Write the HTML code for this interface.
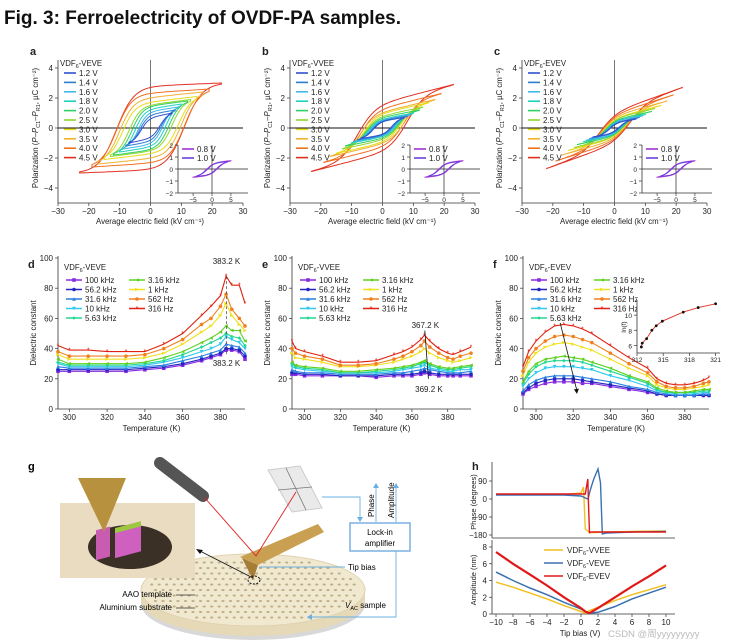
<!DOCTYPE html>
<html><head><meta charset="utf-8"><style>
body{margin:0;background:#fff;width:733px;height:642px;overflow:hidden}
svg{display:block;font-family:"Liberation Sans",sans-serif}
text{font-family:"Liberation Sans",sans-serif}
</style></head><body>
<svg id="fig" width="733" height="642" viewBox="0 0 733 642">
<text x="4" y="24" font-size="19" font-weight="bold" fill="#111">Fig. 3: Ferroelectricity of OVDF-PA samples.</text>
<g>
 <text x="28" y="470" font-size="11" font-weight="bold">g</text>
 <ellipse cx="253" cy="604" rx="112" ry="36" fill="#d8d8d8"/>
 <path d="M141 590 L141 600 A112 36 0 0 0 365 600 L365 590 Z" fill="#e6d9b8"/>
 <ellipse cx="253" cy="590" rx="112" ry="36" fill="#f1e8d0" stroke="#e0d2b0"/>
 <g id="holes"></g>
 <rect x="60" y="503" width="135" height="75" fill="#e9dcc0"/>
 <ellipse cx="130" cy="547" rx="42" ry="22" fill="#3a3026"/>
 <rect x="96" y="528" width="14" height="30" fill="#c85cb0" transform="skewY(-15) translate(0,28)"/>
 <rect x="115" y="525" width="26" height="30" fill="#d060c0" transform="skewY(-15) translate(0,34)"/>
 <rect x="115" y="525" width="26" height="5" fill="#9cc840" transform="skewY(-15) translate(0,34)"/>
 <polygon points="78,478 126,478 104,532" fill="#b8913e"/>
 <line x1="160" y1="463" x2="203" y2="496" stroke="#555" stroke-width="12" stroke-linecap="round"/>
 <polygon points="268,470 300,466 322,508 292,512" fill="#eaeaea" stroke="#ccc"/>
 <line x1="286" y1="468" x2="306" y2="510" stroke="#777" stroke-width="0.8"/>
 <line x1="278" y1="490" x2="312" y2="487" stroke="#777" stroke-width="0.8"/>
 <polygon points="240,557 318,524 324,532 258,565" fill="#c9a052"/>
 <polygon points="242,558 258,565 253,580" fill="#a67d36"/>
 <ellipse cx="254" cy="580" rx="6" ry="4" fill="none" stroke="#000" stroke-dasharray="2,1.5"/>
 <polyline points="204,497 256,556 296,492" fill="none" stroke="#e02020" stroke-width="0.9"/>
 <line x1="253" y1="578" x2="198" y2="550" stroke="#111" stroke-width="0.8"/>
 <polygon points="196,549 203,550 200,554" fill="#111"/>
 <rect x="350" y="523" width="60" height="28" fill="#fff" stroke="#7ab0e0" stroke-width="1.5"/>
 <text x="380" y="535" font-size="8" text-anchor="middle">Lock-in</text>
 <text x="380" y="546" font-size="8" text-anchor="middle">amplifier</text>
 <g stroke="#6ab0e0" fill="none" stroke-width="0.9">
  <polyline points="322,497 360,497 360,519"/>
  <line x1="376" y1="522" x2="376" y2="486"/>
  <line x1="396" y1="522" x2="396" y2="486"/>
  <polyline points="396,551 396,617 310,617"/>
  <line x1="259" y1="567" x2="345" y2="567"/>
 </g>
 <g fill="#6ab0e0"><polygon points="357,517 363,517 360,522"/><polygon points="373,488 379,488 376,483"/><polygon points="393,488 399,488 396,483"/><polygon points="312,614 312,620 307,617"/></g>
 <text transform="translate(374,517) rotate(-90)" font-size="8">Phase</text>
 <text transform="translate(394,518) rotate(-90)" font-size="8">Amplitude</text>
 <text x="348" y="570" font-size="8">Tip bias</text>
 <text x="345" y="608" font-size="8"><tspan font-style="italic">V</tspan><tspan font-size="5.5" dy="2">AC</tspan><tspan dy="-2"> sample</tspan></text>
 <text x="172" y="597" font-size="8" text-anchor="end">AAO template</text>
 <text x="172" y="610" font-size="8" text-anchor="end">Aluminium substrate</text>
 <line x1="176" y1="595" x2="195" y2="595" stroke="#333" stroke-width="0.7"/><line x1="176" y1="608" x2="195" y2="608" stroke="#333" stroke-width="0.7"/>
</g>
<g id="plots"></g>
</svg>
<script>
// ---------- DATA ----------
const voltsA=["1.2 V","1.4 V","1.6 V","1.8 V","2.0 V","2.5 V","3.0 V","3.5 V","4.0 V","4.5 V"];
const emaxA=[7,8,9,10,12,13,15,17,19,23];
const ecA=[3,3.5,4,5,6,7,9,10,11,11];
const pmaxA=[1.0,1.2,1.4,1.6,1.8,1.9,2.1,2.4,2.6,3.0];
const prA=[0.6,0.8,1.0,1.2,1.4,1.5,1.7,2.0,2.3,2.7];
const emaxB=[7,8,9,10,12,13,15,17,19,23];
const ecB=[3,3.5,4,4.5,5,5.5,6,7,7,8];
const pmaxB=[0.7,0.8,0.9,1.0,1.2,1.4,1.7,1.9,2.3,2.9];
const prB=[0.4,0.45,0.5,0.55,0.65,0.75,0.9,1.0,1.2,1.5];
const emaxC=[7,8,9,10,12,13,15,17,19,22];
const ecC=[1.5,2,2,2.5,3,3,3.5,4,4.5,5];
const pmaxC=[0.6,0.7,0.8,0.9,1.1,1.3,1.5,1.8,2.2,2.7];
const prC=[0.2,0.25,0.3,0.35,0.4,0.45,0.5,0.6,0.7,0.8];
const freqs=["100 kHz","56.2 kHz","31.6 kHz","10 kHz","5.63 kHz","3.16 kHz","1 kHz","562 Hz","316 Hz"];
const tempsD=[294,300,310,320,330,340,350,360,370,375,380,383,386,390,393];
const epsD=[
[25,25,25,25,25,26,27,29,32,34,36,39,39,38,33],
[26,26,26,26,26,27,28,30,33,35,37,40,40,39,35],
[28,27,27,27,27,28,29,32,35,37,39,43,42,41,37],
[30,28,28,28,28,29,31,34,38,40,43,48,46,44,40],
[31,29,29,29,29,30,32,36,41,44,47,50,48,47,42],
[33,30,30,30,30,31,34,38,44,47,51,55,52,52,45],
[36,33,33,33,33,34,37,43,51,55,62,70,62,56,52],
[38,35,35,35,35,36,40,46,56,60,68,76,66,60,55],
[42,39,39,38,38,38,43,50,62,68,75,88,82,82,70]];
const tempsE=[293,295,300,310,320,330,340,350,355,360,365,367,370,375,380,383,387,393];
const epsE=[
[23,23,22,22,22,22,21,22,22,22,23,24,23,22,22,22,22,22],
[24,24,23,23,22,22,22,23,23,23,24,25,24,23,23,23,23,23],
[26,25,24,24,23,23,23,24,24,25,26,27,26,25,24,24,24,25],
[28,27,26,25,24,24,24,25,26,27,28,29,27,26,25,25,26,26],
[30,28,27,26,24,24,25,26,27,28,30,31,29,27,26,26,27,28],
[31,29,28,27,25,25,26,27,28,29,31,32,30,28,27,27,28,29],
[37,34,33,31,28,28,29,31,33,35,38,40,37,34,32,31,32,34],
[40,37,35,33,29,29,30,33,35,38,42,45,41,37,34,33,35,37],
[45,40,38,35,31,31,32,36,38,41,46,49,45,40,37,36,38,41]];
const tempsF=[293,296,300,305,310,315,320,325,330,340,350,360,365,370,375,380,385,390,393];
const epsF=[
[10,13,15,17,18,18,18,17,17,15,13,11,10,9,9,9,9,9,9],
[11,14,17,19,20,20,20,19,18,16,14,12,10,9,9,9,9,9,9],
[12,16,19,21,22,22,22,21,20,18,15,13,11,10,9,9,9,10,10],
[15,20,24,27,28,28,28,27,26,22,19,15,12,11,10,10,10,11,11],
[17,23,28,31,32,32,32,31,29,25,21,17,13,11,11,11,11,12,12],
[18,25,30,33,34,35,34,33,31,27,22,18,14,12,11,11,12,13,13],
[22,31,37,41,43,44,43,41,39,33,27,22,16,14,13,13,14,15,16],
[25,34,40,45,48,49,48,46,44,37,30,24,18,15,14,14,15,17,18],
[28,38,45,51,55,56,55,53,50,42,34,27,20,17,16,16,17,19,21]];
const insetFT=[312.5,312.6,313.1,313.7,314.2,314.9,317.3,319.0,321.0];
const insetFlnf=[5.8,6.3,6.9,8.0,8.6,9.2,10.4,11.0,11.5];
const biasH=[-10,-8,-6,-4,-2,0,0.5,1,2,4,6,8,10];
const ampVVEE=[3.8,3.2,2.5,1.8,1.0,0.3,0.1,0.4,0.8,1.6,2.3,2.9,3.5];
const ampVEVE=[5.0,4.0,3.1,2.3,1.4,0.6,0.3,0.1,0.2,0.9,1.8,2.5,3.2];
const ampEVEV=[7.4,6.0,4.7,3.4,2.0,0.7,0.3,0.1,0.7,2.0,3.3,4.5,5.8];
const phaseBias=[-10,-2,0,0.3,0.5,0.8,0.9,1.0,1.2,1.5,1.8,2.0,2.3,2.5,3,6,10];
const phVVEE=[22,22,30,60,-150,-160,-165,-168,-168,-168,-168,-167,-166,-166,-165,-162,-160];
const phVEVE=[20,20,15,10,5,0,10,30,60,100,130,150,80,-175,-170,-165,-162];
const phEVEV=[25,25,25,25,25,100,-40,-168,-165,-165,-165,-165,-165,-165,-165,-165,-165];
// ---------- RENDER ----------
const NS="http://www.w3.org/2000/svg";
const root=document.getElementById('plots');
const vColors=["#3050d0","#2a7fd0","#40b8e8","#20d0c0","#30d060","#90d830","#e6dc18","#f0b030","#f07020","#e03020"];
const fColors=["#8a2be2","#2424c0","#2a7fe0","#30c8f0","#20d890","#60d020","#f0e020","#f08020","#e02010"];
function el(tag,attrs,parent){const e=document.createElementNS(NS,tag);for(const k in attrs)e.setAttribute(k,attrs[k]);(parent||root).appendChild(e);return e;}
function txt(x,y,s,size,anchor,parent){const t=el('text',{x:x,y:y,'font-size':size||8,'text-anchor':anchor||'start',fill:'#222'},parent);t.textContent=s;return t;}
function lin(d0,d1,r0,r1){return v=>r0+(v-d0)*(r1-r0)/(d1-d0);}
function axes(g,sx,sy,xt,yt,x0,y0,x1,y1,fs){
  el('line',{x1:x0,y1:y0,x2:x0,y2:y1,stroke:'#333','stroke-width':0.8},g);
  el('line',{x1:x0,y1:y0,x2:x1,y2:y0,stroke:'#333','stroke-width':0.8},g);
  xt.forEach(v=>{const x=sx(v);el('line',{x1:x,y1:y0,x2:x,y2:y0+3,stroke:'#333','stroke-width':0.7},g);txt(x,y0+(fs?9:11),String(v).replace('-','−'),fs||8,'middle',g);});
  yt.forEach(v=>{const y=sy(v);el('line',{x1:x0-3,y1:y,x2:x0,y2:y,stroke:'#333','stroke-width':0.7},g);txt(x0-5,y+3,String(v).replace('-','−'),fs||8,'end',g);});
}
function loopPath(sx,sy,emax,ec,pmax,pr){
  const w=emax*0.2+1;const a=pr/Math.tanh(ec/w);
  let k=(pmax-a*Math.tanh((emax+ec)/w))/emax;if(k<0)k=0;
  const pts=[];
  for(let i=0;i<=50;i++){const E=emax-2*emax*i/50;pts.push([E,k*E+a*Math.tanh((E+ec)/w)]);}
  for(let i=0;i<=50;i++){const E=-emax+2*emax*i/50;pts.push([E,k*E+a*Math.tanh((E-ec)/w)]);}
  return 'M'+pts.map(p=>sx(p[0]).toFixed(1)+','+sy(p[1]).toFixed(1)).join('L')+'Z';
}
function legendLine(g,x,y,c,label){el('line',{x1:x,y1:y,x2:x+12,y2:y,stroke:c,'stroke-width':1.6},g);txt(x+15,y+3,label,8,'start',g);}
function panelLoop(letter,ox,name,emax,ec,pmax,pr){
  const g=el('g',{});
  
  
  const sx=lin(-30,30,ox,ox+185),sy=lin(-4,4,188,68);
  const t=txt(ox-28,55,letter,11,'start',g);t.setAttribute('font-weight','bold');
  axes(g,sx,sy,[-30,-20,-10,0,10,20,30],[-4,-2,0,2,4],ox,203,ox+185,60);
  el('line',{x1:sx(0),y1:60,x2:sx(0),y2:203,stroke:'#555','stroke-width':0.8},g);
  el('line',{x1:ox,y1:sy(0),x2:ox+185,y2:sy(0),stroke:'#111','stroke-width':0.9},g);
  for(let i=emax.length-1;i>=0;i--){
    const p=el('path',{d:loopPath(sx,sy,emax[i],ec[i],pmax[i],pr[i]),fill:'none',stroke:vColors[i],'stroke-width':1},g);
    
    
  }
  const lt=txt(ox+2,66,'',7.8,'start',g);lt.innerHTML='VDF<tspan font-size="5.5" dy="2">6</tspan><tspan dy="-2">-'+name+'</tspan>';
  for(let i=0;i<voltsA.length;i++)legendLine(g,ox+6,73+i*9.4,vColors[i],voltsA[i]);
  txt(ox+92,224,'Average electric field (kV cm⁻¹)',7.8,'middle',g);
  const yl=txt(0,0,'',7.8,'middle',g);yl.setAttribute('transform','translate('+(ox-20)+',128) rotate(-90)');
  yl.innerHTML='Polarization (<tspan font-style="italic">P</tspan>–<tspan font-style="italic">P</tspan><tspan font-size="5.5" dy="2">C1</tspan><tspan dy="-2">–</tspan><tspan font-style="italic">P</tspan><tspan font-size="5.5" dy="2">R1</tspan><tspan dy="-2">, µC cm⁻²)</tspan>';
  const ig=el('g',{},g);
  
  
  const ix=lin(-9,9,ox+120,ox+188),iy=lin(-2,2,193,145);
  axes(ig,ix,iy,[-5,0,5],[-2,-1,0,1,2],ox+120,193,ox+190,145,6.5);
  el('line',{x1:ix(0),y1:145,x2:ix(0),y2:193,stroke:'#222','stroke-width':0.7},ig);
  el('line',{x1:ox+120,y1:iy(0),x2:ox+190,y2:iy(0),stroke:'#222','stroke-width':0.7},ig);
  el('path',{d:loopPath(ix,iy,5,1.5,0.7,0.35),fill:'none',stroke:'#a030d0','stroke-width':0.9},ig);
  el('path',{d:loopPath(ix,iy,4,1.2,0.6,0.3),fill:'none',stroke:'#7040e0','stroke-width':0.9},ig);
  legendLine(ig,ox+124,149,'#a030d0','0.8 V');legendLine(ig,ox+124,158,'#7040e0','1.0 V');
}
panelLoop('a',58,'VEVE',emaxA,ecA,pmaxA,prA);
panelLoop('b',290,'VVEE',emaxB,ecB,pmaxB,prB);
panelLoop('c',522,'EVEV',emaxC,ecC,pmaxC,prC);
const markers=['square','circle','triangle','tridown','diamond','tleft','tright','circle','star'];
function marker(g,x,y,k,c){
  const s=1.8;
  if(k==='square')el('rect',{x:x-s,y:y-s,width:2*s,height:2*s,fill:c},g);
  else if(k==='circle')el('circle',{cx:x,cy:y,r:s,fill:c},g);
  else if(k==='triangle')el('polygon',{points:`${x},${y-s} ${x-s},${y+s} ${x+s},${y+s}`,fill:c},g);
  else if(k==='tridown')el('polygon',{points:`${x},${y+s} ${x-s},${y-s} ${x+s},${y-s}`,fill:c},g);
  else if(k==='tleft')el('polygon',{points:`${x-s},${y} ${x+s},${y-s} ${x+s},${y+s}`,fill:c},g);
  else if(k==='tright')el('polygon',{points:`${x+s},${y} ${x-s},${y-s} ${x-s},${y+s}`,fill:c},g);
  else if(k==='diamond')el('polygon',{points:`${x},${y-s} ${x+s},${y} ${x},${y+s} ${x-s},${y}`,fill:c},g);
  else el('text',{x:x,y:y+2.5,'font-size':7,'text-anchor':'middle',fill:c},g).textContent='*';
}
function panelDiel(letter,ox,x1,tmin,tmax,name,temps,eps){
  const g=el('g',{});
  
  
  const sx=lin(tmin,tmax,ox,x1),sy=lin(0,100,409,258);
  const t=txt(ox-30,268,letter,11,'start',g);t.setAttribute('font-weight','bold');
  axes(g,sx,sy,[300,320,340,360,380],[0,20,40,60,80,100],ox,409,x1,256);
  for(let i=0;i<eps.length;i++){
    const pts=temps.map((T,j)=>sx(T).toFixed(1)+','+sy(eps[i][j]).toFixed(1)).join(' ');
    const pl=el('polyline',{points:pts,fill:'none',stroke:fColors[i],'stroke-width':1.1},g);
    
    
    temps.forEach((T,j)=>marker(g,sx(T),sy(eps[i][j]),markers[i],fColors[i]));
  }
  const lt=txt(ox+6,270,'',7.8,'start',g);lt.innerHTML='VDF<tspan font-size="5.5" dy="2">6</tspan><tspan dy="-2">-'+name+'</tspan>';
  for(let i=0;i<9;i++){
    const col=i<5?0:1,row=i<5?i:i-5;
    const lx=ox+8+col*63,ly=280+row*9.5;
    el('line',{x1:lx,y1:ly,x2:lx+16,y2:ly,stroke:fColors[i],'stroke-width':1.5},g);
    marker(g,lx+8,ly,markers[i],fColors[i]);
    txt(lx+19,ly+3,freqs[i],8,'start',g);
  }
  txt((ox+x1)/2,431,'Temperature (K)',8,'middle',g);
  const yl=txt(0,0,'Dielectric constant',8,'middle',g);yl.setAttribute('transform','translate('+(ox-22)+',333) rotate(-90)');
  return {g,sx,sy};
}
let d=panelDiel('d',58,245,294,393,'VEVE',tempsD,epsD);
el('line',{x1:d.sx(383.2),y1:d.sy(88),x2:d.sx(383.2),y2:d.sy(35),stroke:'#444','stroke-dasharray':'3,2','stroke-width':0.7},d.g);
txt(d.sx(383.2),264,'383.2 K',8,'middle',d.g);txt(d.sx(383.2),366,'383.2 K',8,'middle',d.g);
let e=panelDiel('e',292,471,293,393,'VVEE',tempsE,epsE);
el('line',{x1:e.sx(367.2),y1:e.sy(52),x2:e.sx(369.2),y2:e.sy(20),stroke:'#111','stroke-width':0.8},e.g);
txt(e.sx(367.5),328,'367.2 K',8,'middle',e.g);txt(e.sx(369.5),392,'369.2 K',8,'middle',e.g);
let f=panelDiel('f',523,709,293,393,'EVEV',tempsF,epsF);
el('line',{x1:f.sx(313),y1:f.sy(57),x2:f.sx(322),y2:f.sy(12),stroke:'#111','stroke-width':0.8},f.g);
el('polygon',{points:`${f.sx(322)},${f.sy(10)} ${f.sx(322)-3},${f.sy(13)} ${f.sx(322)+2},${f.sy(13.5)}`,fill:'#111'},f.g);
(function(){
  const g=el('g',{},f.g);
  
  
  const ix=lin(312,321.5,637,720),iy=lin(5,12,353,300);
  el('rect',{x:637,y:298,width:84,height:56,fill:'#fff'},g);
  axes(g,ix,iy,[312,315,318,321],[6,8,10],637,353,720,300,6.5);
  el('polyline',{points:insetFT.map((T,j)=>ix(T).toFixed(1)+','+iy(insetFlnf[j]).toFixed(1)).join(' '),fill:'none',stroke:'#e03020','stroke-width':0.9},g);
  insetFT.forEach((T,j)=>el('circle',{cx:ix(T),cy:iy(insetFlnf[j]),r:1.4,fill:'#111'},g));
  const yl=txt(0,0,'ln(f)',6.5,'middle',g);yl.setAttribute('transform','translate(626,327) rotate(-90)');
})();
(function(){
  const g=el('g',{});
  
  
  const t=txt(472,470,'h',11,'start',g);t.setAttribute('font-weight','bold');
  const sx=lin(-10,10,496,666),sp=lin(-180,90,535,481),sa=lin(0,8,614,547);
  axes(g,sx,sp,[],[90,0,-90,-180],492,538,675,462);
  axes(g,sx,sa,[-10,-8,-6,-4,-2,0,2,4,6,8,10],[0,2,4,6,8],492,614,675,540);
  const yl1=txt(0,0,'Phase (degrees)',7.5,'middle',g);yl1.setAttribute('transform','translate(476,502) rotate(-90)');
  const yl2=txt(0,0,'Amplitude (nm)',7.5,'middle',g);yl2.setAttribute('transform','translate(476,580) rotate(-90)');
  txt(580,636,'Tip bias (V)',8,'middle',g);
  const cols=['#f0c020','#3a70b0','#e01818'];const names=['VVEE','VEVE','EVEV'];
  [phVVEE,phVEVE,phEVEV].forEach((arr,i)=>{
    const p=el('polyline',{points:phaseBias.map((b,j)=>sx(b).toFixed(1)+','+sp(arr[j]).toFixed(1)).join(' '),fill:'none',stroke:cols[i],'stroke-width':1.4},g);
    
    
  });
  [ampVVEE,ampVEVE,ampEVEV].forEach((arr,i)=>{
    const p=el('polyline',{points:biasH.map((b,j)=>sx(b).toFixed(1)+','+sa(arr[j]).toFixed(1)).join(' '),fill:'none',stroke:cols[i],'stroke-width':i==2?2.2:1.5},g);
    
    
  });
  for(let i=0;i<3;i++){
    el('line',{x1:544,y1:550+i*13,x2:563,y2:550+i*13,stroke:cols[i],'stroke-width':1.6},g);
    const lt=txt(567,553+i*13,'',8,'start',g);lt.innerHTML='VDF<tspan font-size="5.5" dy="2">6</tspan><tspan dy="-2">-'+names[i]+'</tspan>';
  }
  const w=txt(608,637,'CSDN @周yyyyyyyyy',9.5,'start',g);w.setAttribute('fill','#bbb');
})();
(function(){
  const h=document.getElementById('holes');
  for(let r=-5;r<=5;r++)for(let c=-14;c<=14;c++){
    const x=253+c*7.5+(r%2?3.7:0),y=590+r*5.5;
    if(((x-253)/105)**2+((y-590)/33)**2<1)el('ellipse',{cx:x,cy:y,rx:1.6,ry:1,fill:'#bfae88'},h);
  }
})();
</script>
</body></html>
